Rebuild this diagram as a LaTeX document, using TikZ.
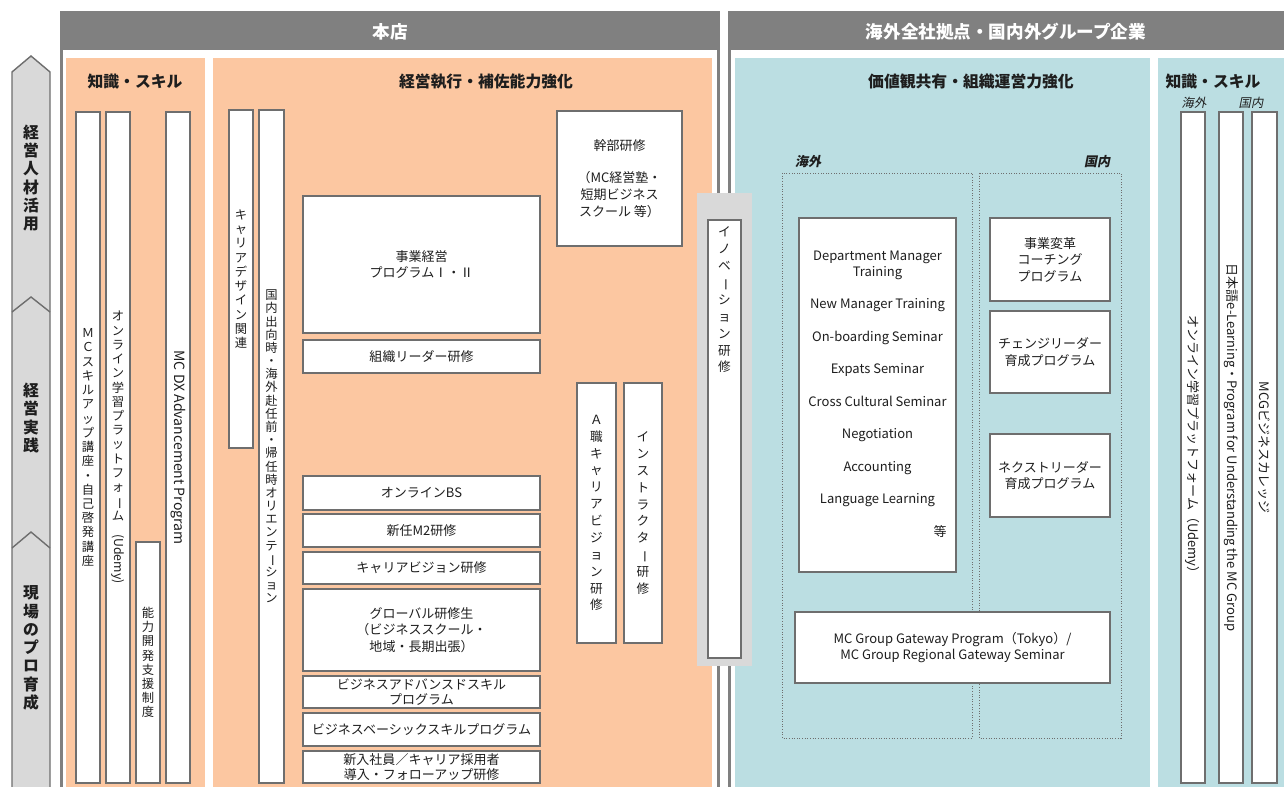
\documentclass[tikz,border=0pt]{standalone}
\usepackage{fontspec}
\setmainfont{Noto Sans CJK JP}
\newfontfamily\slantjp[FakeSlant=0.2]{Noto Sans CJK JP}
\usepackage{graphicx}
\usetikzlibrary{positioning}
\definecolor{Salmon}{RGB}{252,199,161}
\definecolor{PaleTeal}{RGB}{187,222,226}
\definecolor{HeadGray}{RGB}{128,128,128}
\definecolor{EdgeGray}{RGB}{110,110,110}
\definecolor{ColGray}{RGB}{217,217,217}
\definecolor{InkGray}{RGB}{30,30,30}

% vertical (tategaki) stacking, one character per line
\ExplSyntaxOn
\NewDocumentCommand \tate { m }
  {
    \vbox:n
      {
        \tl_map_inline:nn {#1}
          {
            \str_if_eq:nnTF {##1} {ー}
              { \hbox_to_wd:nn {1em} { \hss \rotatebox[origin=c]{-90}{ー} \hss } }
              { \hbox_to_wd:nn {1em} { \hss ##1 \hss } }
          }
      }
  }
\ExplSyntaxOff

\begin{document}
\begin{tikzpicture}[x=0.02cm, y=-0.02cm,
    corners/.style n args={4}{at={({(#1+#3)/2},{(#2+#4)/2})},
               minimum width={(#3-#1)*0.02cm}, minimum height={(#4-#2)*0.02cm}},
    bx/.style={draw=EdgeGray, line width=1.1pt, fill=white, inner sep=0pt,
               align=center, text=InkGray, font=\fontsize{7.4}{9.4}\selectfont},
    colbox/.style={bx, font=\fontsize{7}{8.1}\selectfont},
    widecol/.style={bx, font=\fontsize{7.2}{9.6}\selectfont},
    sidetxt/.style={rotate=-90, text=InkGray, inner sep=0pt, font=\fontsize{7.4}{8}\selectfont},
    hdrbar/.style={fill=HeadGray, inner sep=0pt, text=white, font=\bfseries\fontsize{10}{12}\selectfont},
    ttl/.style={text=InkGray, inner sep=0pt, font=\bfseries\fontsize{9}{10}\selectfont},
    sublbl/.style={text=InkGray, inner sep=0pt, font=\slantjp\bfseries\fontsize{7.4}{8}\selectfont},
    lvllbl/.style={text=InkGray, inner sep=0pt, font=\bfseries\fontsize{9}{10.4}\selectfont},
    frm/.style={draw=HeadGray, line width=0.06cm},
    zonebox/.style={draw=EdgeGray, densely dotted, line width=0.5pt}
]
\useasboundingbox (0,0) rectangle (1284,787);
\clip (0,0) rectangle (1284,787);
\fill[white] (0,0) rectangle (1284,787);

% outer frames and headers
\draw[frm] (61.5,13) rectangle (718.5,820);
\draw[frm] (729.5,13) rectangle (1320,820);
\node[hdrbar, corners={60}{13}{720}{50}] (hq) {本店};
\node[hdrbar, corners={728}{13}{1284}{50}] (grp) {海外全社拠点・国内外グループ企業};

% coloured zones
\fill[Salmon] (66,58) rectangle (205,820);
\fill[Salmon] (213,58) rectangle (712,820);
\fill[PaleTeal] (735,58) rectangle (1150,820);
\fill[PaleTeal] (1158,58) rectangle (1300,820);

% level arrows on the left
\filldraw[fill=ColGray, draw=EdgeGray, line width=0.8pt]
    (12,820) -- (12,72) -- (31,56) -- (50,72) -- (50,820);
\draw[EdgeGray, line width=0.8pt] (12,312) -- (31,297) -- (50,312);
\draw[EdgeGray, line width=0.8pt] (12,548) -- (31,532) -- (50,548);
\node[lvllbl] (lvlMgmt) at (31,178) {\tate{経営人材活用}};
\node[lvllbl] (lvlPrac) at (31,418) {\tate{経営実践}};
\node[lvllbl] (lvlField) at (31,648) {\tate{現場のプロ育成}};

% head office: knowledge and skills
\node[ttl] (knTitle) at (135,82) {知識・スキル};
\node[colbox, corners={76}{112}{100}{783}] (mcSkill) {\tate{ＭＣスキルアップ講座・自己啓発講座}};
\node[colbox, corners={106}{112}{130}{783}] (udemyHq)
    {\tate{オンライン学習プラットフォーム{\rotatebox{-90}{(Udemy)}}}};
\node[colbox, corners={136}{542}{160}{783}] (devSup) {\tate{能力開発支援制度}};
\node[colbox, corners={166}{112}{190}{783}] (dxProg) {};
\node[sidetxt, font=\fontsize{8}{9}\selectfont] (dxTxt) at (dxProg) {MC DX Advancement Program};

% head office: management execution
\node[ttl] (exeTitle) at (486,82) {経営執行・補佐能力強化};
\node[colbox, corners={229}{110}{253}{448}] (careerDes) {\tate{キャリアデザイン関連}};
\node[colbox, corners={259}{110}{284}{783}, font=\fontsize{7}{7.5}\selectfont] (orient)
    {\tate{国内出向時・海外赴任前・帰任時オリエンテーション}};
\node[bx, corners={303}{196}{540}{333}] (bizMgmt) {事業経営\\プログラムⅠ・Ⅱ};
\node[bx, corners={303}{340}{540}{373}] (orgLead) {組織リーダー研修};
\node[bx, corners={557}{111}{682}{246}] (execTr)
    {幹部研修\\[9pt]（MC経営塾・\\短期ビジネス\\スクール 等）};
\node[bx, corners={303}{476}{540}{510}] (onlineBS) {オンラインBS};
\node[bx, corners={303}{514}{540}{547}] (newM2) {新任M2研修};
\node[bx, corners={303}{552}{540}{584}] (carVis) {キャリアビジョン研修};
\node[bx, corners={303}{589}{540}{671}] (globTr)
    {グローバル研修生\\（ビジネススクール・\\地域・長期出張）};
\node[bx, corners={303}{676}{540}{708}, font=\fontsize{7.4}{8.8}\selectfont] (bizAdv)
    {ビジネスアドバンスドスキル\\プログラム};
\node[bx, corners={303}{713}{540}{746}] (bizBasic) {ビジネスベーシックスキルプログラム};
\node[bx, corners={303}{751}{540}{783}, font=\fontsize{7.4}{8.6}\selectfont] (newHire)
    {新入社員／キャリア採用者\\導入・フォローアップ研修};
\node[widecol, corners={577}{383}{616}{643}] (aCareer) {\tate{Ａ職キャリアビジョン研修}};
\node[widecol, corners={624}{383}{662}{643}] (instr) {\tate{インストラクター研修}};

% innovation programme straddles both sides
\node[fill=ColGray, inner sep=0pt, corners={697}{193}{752}{666}] (innovBg) {};
\node[widecol, corners={708}{220}{741}{658}] (innov) {};
\node[widecol, draw=none, fill=none, below=4pt of innov.north] (innovTxt) {\tate{イノベーション研修}};

% overseas / group companies: shared values
\node[ttl] (valTitle) at (971,82) {価値観共有・組織運営力強化};
\node[sublbl] (ovsLbl) at (808,162) {海外};
\node[sublbl] (domLbl) at (1097,162) {国内};
\draw[zonebox] (782,173) rectangle (972,738);
\draw[zonebox] (979,173) rectangle (1121,738);
\node[bx, corners={799}{218}{956}{572}, font=\fontsize{7.4}{9}\selectfont] (ovsList) {%
    \begin{tabular}{@{}c@{}}
    Department Manager\\ Training\\[9.5pt]
    New Manager Training\\[9.5pt]
    On-boarding Seminar\\[9.5pt]
    Expats Seminar\\[9.5pt]
    Cross Cultural Seminar\\[9.5pt]
    Negotiation\\[9.5pt]
    Accounting\\[9.5pt]
    Language Learning\\[9.5pt]
    \multicolumn{1}{@{}r@{}}{等}
    \end{tabular}};
\node[bx, corners={990}{218}{1110}{301}] (coach) {事業変革\\コーチング\\プログラム};
\node[bx, corners={990}{311}{1110}{393}] (changeLdr) {チェンジリーダー\\育成プログラム};
\node[bx, corners={990}{434}{1110}{517}] (nextLdr) {ネクストリーダー\\育成プログラム};
\node[bx, corners={795}{612}{1110}{683}] (gateway)
    {MC Group Gateway Program（Tokyo）/\\MC Group Regional Gateway Seminar};

% overseas / group companies: knowledge and skills
\node[ttl] (knGTitle) at (1213,82) {知識・スキル};
\node[sublbl, font=\slantjp\fontsize{7}{8}\selectfont] (knOvs) at (1194,103) {海外};
\node[sublbl, font=\slantjp\fontsize{7}{8}\selectfont] (knDom) at (1251,103) {国内};
\node[colbox, corners={1181}{112}{1205}{783}] (udemyGrp) {};
\node[colbox, corners={1219}{112}{1243}{783}] (jpLearn) {};
\node[colbox, corners={1252}{112}{1277}{783}] (mcgColl) {};
\node[sidetxt] (udemyGrpTxt) at (udemyGrp) {オンライン学習プラットフォーム（Udemy）};
\node[sidetxt] (jpLearnTxt) at (jpLearn) {日本語e-Learning・Program for Understanding the MC Group};
\node[sidetxt] (mcgCollTxt) at (mcgColl) {MCGビジネスカレッジ};
\end{tikzpicture}
\end{document}
